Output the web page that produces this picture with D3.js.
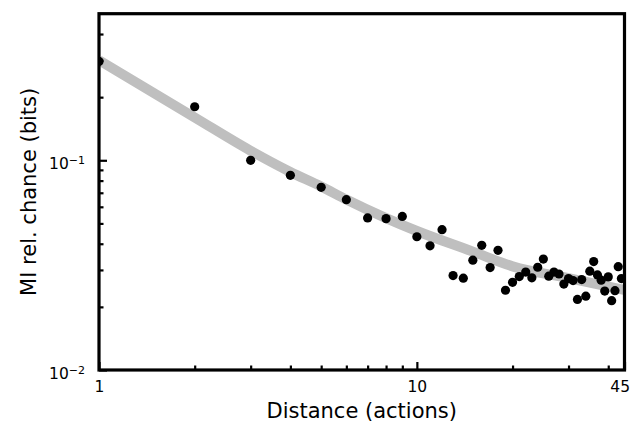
<!DOCTYPE html>
<html>
<head>
<meta charset="utf-8">
<script src="https://cdn.jsdelivr.net/npm/d3@7"></script>
<style>
  body { margin: 0; background: #fff; }
  text { font-family: "DejaVu Sans", sans-serif; fill: #000; }
</style>
</head>
<body>
<div id="chart"></div>
<script>
// distance (actions) for each point
var distance = [1, 2, 3, 4, 5, 6, 7, 8, 9, 10, 11, 12, 13, 14, 15, 16, 17, 18, 19, 20, 21, 22,
  23, 24, 25, 26, 27, 28, 29, 30, 31, 32, 33, 34, 35, 36, 37, 38, 39, 40, 41, 42, 43, 44];
// mutual information above chance (bits)
var miBits = [0.296, 0.180, 0.100, 0.0848, 0.0743, 0.0649, 0.0531, 0.0527, 0.0540, 0.0432, 0.0391,
  0.0467, 0.0282, 0.0274, 0.0334, 0.0393, 0.0308, 0.0372, 0.0240, 0.0262, 0.0279, 0.0293,
  0.0275, 0.0309, 0.0338, 0.0280, 0.0293, 0.0287, 0.0257, 0.0273, 0.0267, 0.0217, 0.0270,
  0.0225, 0.0296, 0.0329, 0.0284, 0.0268, 0.0238, 0.0278, 0.0214, 0.0239, 0.0311, 0.0273];
// fitted curve
var fitX = [1, 2, 3, 4, 5, 6, 8, 10, 15, 20, 30, 45];
var fitY = [0.300, 0.160, 0.111, 0.088, 0.075, 0.065, 0.053, 0.046, 0.0367, 0.0312, 0.0274, 0.0241];

var xMajor = [1, 10, 45];
var xMinor = [2, 3, 4, 5, 6, 7, 8, 9, 20, 30, 40];
var yMajor = [0.01, 0.1];
var yMinor = [0.02, 0.03, 0.04, 0.05, 0.06, 0.07, 0.08, 0.09, 0.2, 0.3, 0.4];
var yExp = { 0.01: "\u22122", 0.1: "\u22121" };

var width = 630, height = 423;
var plotL = 99, plotR = 624.5, plotT = 13.7, plotB = 370;

var svg = d3.select("#chart")
  .append("svg")
  .attr("width", width)
  .attr("height", height);

var x = d3.scaleLog().domain([1, 45]).range([plotL, plotR]);
var y = d3.scaleLog().domain([0.01, 0.5]).range([plotB, plotT]);

svg.append("clipPath").attr("id", "plotclip")
  .append("rect")
  .attr("x", plotL).attr("y", plotT)
  .attr("width", plotR - plotL).attr("height", plotB - plotT);

var plot = svg.append("g").attr("clip-path", "url(#plotclip)");

// grey fit line
plot.append("path")
  .datum(fitX.map(function(d, i) { return [d, fitY[i]]; }))
  .attr("fill", "none")
  .attr("stroke", "#bfbfbf")
  .attr("stroke-width", 10)
  .attr("d", d3.line()
    .x(function(d) { return x(d[0]); })
    .y(function(d) { return y(d[1]); })
    .curve(d3.curveMonotoneX));

// points
plot.append("g")
  .selectAll("circle")
  .data(distance)
  .enter().append("circle")
  .attr("cx", function(d) { return x(d); })
  .attr("cy", function(d, i) { return y(miBits[i]); })
  .attr("r", 4.6)
  .attr("fill", "#000");

// axes, ticks pointing inward
var gxMinor = svg.append("g")
  .attr("transform", "translate(0," + plotB + ")")
  .call(d3.axisBottom(x).tickValues(xMinor).tickSizeInner(-4.5).tickSizeOuter(0).tickFormat(""));
var gx = svg.append("g")
  .attr("transform", "translate(0," + plotB + ")")
  .call(d3.axisBottom(x).tickValues(xMajor).tickSizeInner(-8).tickSizeOuter(0)
    .tickPadding(11).tickFormat(function(d) { return d; }));
var gyMinor = svg.append("g")
  .attr("transform", "translate(" + plotL + ",0)")
  .call(d3.axisLeft(y).tickValues(yMinor).tickSizeInner(-4.5).tickSizeOuter(0).tickFormat(""));
var gy = svg.append("g")
  .attr("transform", "translate(" + plotL + ",0)")
  .call(d3.axisLeft(y).tickValues(yMajor).tickSizeInner(-8).tickSizeOuter(0)
    .tickPadding(14).tickFormat(function(d) { return "10"; }));

[gxMinor, gx, gyMinor, gy].forEach(function(g) {
  g.select(".domain").remove();
  g.selectAll(".tick line").attr("stroke", "#000").attr("stroke-width", 2.2);
  g.selectAll(".tick text").style("font-size", "15.5px").style("font-family", "DejaVu Sans");
});

// the last x label sits at the frame edge, keep it inside the page
gx.selectAll(".tick text").filter(function(d) { return d === 45; }).attr("text-anchor", "end").attr("x", 5);

// superscript exponents on the y labels
gy.selectAll(".tick text")
  .attr("dy", "0.55em")
  .each(function(d) {
    d3.select(this).append("tspan")
      .attr("dy", "-0.5em")
      .style("font-size", "11px")
      .text(yExp[d]);
  });

// frame
svg.append("rect")
  .attr("x", plotL).attr("y", plotT)
  .attr("width", plotR - plotL).attr("height", plotB - plotT)
  .attr("fill", "none")
  .attr("stroke", "#000")
  .attr("stroke-width", 3.2);

// axis titles
svg.append("text")
  .attr("x", (plotL + plotR) / 2)
  .attr("y", 418)
  .attr("text-anchor", "middle")
  .style("font-size", "21px")
  .text("Distance (actions)");

svg.append("text")
  .attr("transform", "translate(36," + (plotT + plotB) / 2 + ") rotate(-90)")
  .attr("text-anchor", "middle")
  .style("font-size", "21px")
  .text("MI rel. chance (bits)");
</script>
</body>
</html>
